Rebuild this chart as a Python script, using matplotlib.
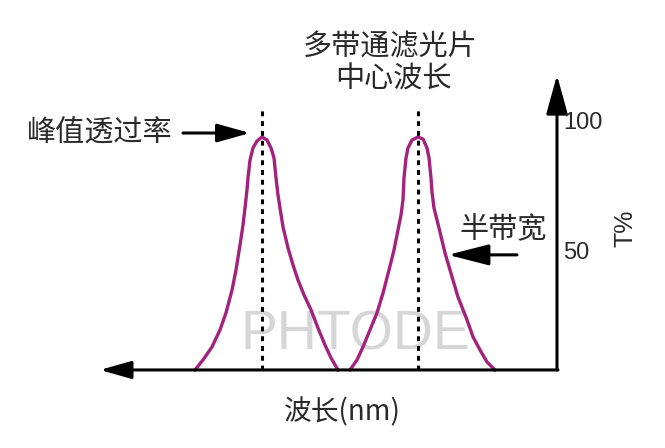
import matplotlib
matplotlib.use("Agg")
from matplotlib import pyplot as plt

plt.rcParams['font.family'] = ['Noto Sans CJK SC', 'DejaVu Sans']

# wavelength axis runs right-to-left (mirrored picture), T in %
peak1_wl = [362, 354, 345, 337, 331, 325, 321, 317, 314, 312, 310, 309, 307, 304, 300, 295,
            290, 286, 283, 281, 279, 277, 274, 269, 264, 259, 253, 246, 239, 232, 226, 219]
peak1_t = [0, 4.3, 9.9, 17.2, 24.5, 34.3, 42.9, 53.6, 62.2, 69.5, 77.3, 82.4, 90.1, 95.3, 98.3, 100,
           98.7, 95.3, 91.0, 82.4, 75.1, 69.5, 61.4, 52.4, 45.1, 38.6, 32.2, 25.8, 18.0, 10.7, 5.2, 0]
peak2_wl = [207, 200, 194, 187, 180, 174, 168, 163, 159, 156, 154, 153, 151, 149, 145, 139,
            134, 130, 128, 126, 125, 123, 120, 117, 112, 107, 99, 90, 84, 77, 70, 62]
peak2_t = [0, 4.3, 9.9, 17.2, 24.5, 33.0, 42.9, 51.5, 60.1, 66.5, 73.0, 82.4, 91.0, 95.3, 98.7, 100,
           99.1, 95.3, 91.0, 82.4, 76.4, 69.5, 64.4, 59.2, 50.2, 42.9, 31.3, 21.5, 14.2, 8.6, 3.4, 0]
centers = [295, 139]
y_ticks = [100, 50]

fig = plt.figure(figsize=(6.65, 4.48), dpi=100)
ax = fig.add_axes([0, 0, 1, 1])
ax.set_xlim(557, -108)
ax.set_ylim(-33.5, 158.8)
ax.axis('off')

curve_color = '#a3227c'
ax.plot(peak1_wl, peak1_t, color=curve_color, lw=2.4, solid_joinstyle='round')
ax.plot(peak2_wl, peak2_t, color=curve_color, lw=2.4, solid_joinstyle='round')

for c in centers:
    ax.plot([c, c], [0, 112.4], color='black', lw=2.2, linestyle=(0, (1.6, 1.6)))

# axes with arrows
ax.annotate('', xy=(0, 126.6), xytext=(0, 0),
            arrowprops=dict(arrowstyle='-|>,head_length=1.2,head_width=0.33',
                            mutation_scale=20, lw=2.2, color='black',
                            shrinkA=0, shrinkB=0))
ax.annotate('', xy=(457, 0), xytext=(-1, 0),
            arrowprops=dict(arrowstyle='-|>,head_length=0.95,head_width=0.27',
                            mutation_scale=20, lw=2.2, color='black',
                            shrinkA=0, shrinkB=0))

for t in y_ticks:
    ax.text(-6, t + 6 if t == 100 else t, str(t), ha='left', va='center',
            fontsize=17, family='Liberation Sans', color='#2a2a2a')
ax.text(-68, 61, 'T%', rotation=90, ha='center', va='center',
        fontsize=18, family='Liberation Sans', color='#2a2a2a')
ax.text(215, -18, '波长(nm)', ha='center', va='center', fontsize=20, color='#2a2a2a')

ax.text(202, 15, 'PHTODE', ha='center', va='center', fontsize=40,
        family='Liberation Sans', color='#d6d6d6', zorder=0)

ax.text(167, 138.6, '多带通滤光片', ha='center', va='center', fontsize=21, color='#2a2a2a')
ax.text(164, 124.5, '中心波长', ha='center', va='center', fontsize=21, color='#2a2a2a')

ax.text(457, 101.7, '峰值透过率', ha='center', va='center', fontsize=21, color='#2a2a2a')
ax.annotate('', xy=(307, 101.7), xytext=(374, 101.7),
            arrowprops=dict(arrowstyle='-|>,head_length=1.0,head_width=0.28',
                            mutation_scale=20, lw=2.2, color='black',
                            shrinkA=0, shrinkB=0))

ax.text(54, 60.1, '半带宽', ha='center', va='center', fontsize=21, color='#2a2a2a')
ax.annotate('', xy=(109, 49.4), xytext=(40, 49.4),
            arrowprops=dict(arrowstyle='-|>,head_length=1.25,head_width=0.32',
                            mutation_scale=20, lw=2.2, color='black',
                            shrinkA=0, shrinkB=0))

fig.savefig('out.png', dpi=100)
